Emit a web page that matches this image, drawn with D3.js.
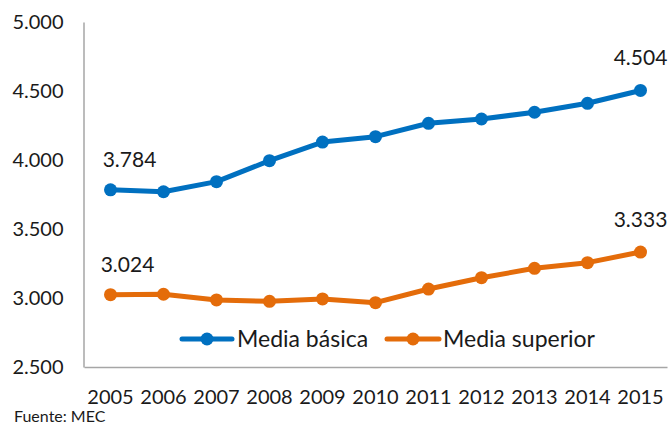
<html><head>
<meta charset="UTF-8">
<title>Media básica vs Media superior</title>
<script src="https://cdnjs.cloudflare.com/ajax/libs/d3/7.8.4/d3.min.js"></script>
<style>
    body {
        margin: 0;
        padding: 0;
        background: #ffffff;
        font-family: Lato, "Open Sans", sans-serif;
    }
    text { fill: #1a1a1a; }
</style>
</head>
<body>
<svg id="chart" width="671" height="430"></svg>
<script>
    // data
    var years = ["2005", "2006", "2007", "2008", "2009", "2010", "2011", "2012", "2013", "2014", "2015"];
    var mediaBasica = [3784, 3770, 3843, 3995, 4130, 4169, 4266, 4297, 4346, 4411, 4504];
    var mediaSuperior = [3024, 3027, 2986, 2976, 2993, 2966, 3065, 3147, 3215, 3256, 3333];
    var seriesNames = ["Media básica", "Media superior"];
    var yTicks = [2500, 3000, 3500, 4000, 4500, 5000];
    var source = "Fuente: MEC";

    var colors = ["#0070c0", "#e46c0a"];
    var axisColor = "#a6a6a6";

    var svg = d3.select("#chart");

    var fmt = d3.formatLocale({decimal: ",", thousands: ".", grouping: [3], currency: ["", ""]}).format(",d");

    var x = d3.scaleBand().domain(years).range([84, 667]).padding(0);
    var y = d3.scaleLinear().domain([2500, 5000]).range([367, 22]);
    var cx = function(d) { return x(d) + x.bandwidth() / 2; };

    // y axis
    var yAxis = svg.append("g")
        .attr("transform", "translate(83.5,0)")
        .call(d3.axisLeft(y).tickValues(yTicks).tickFormat(fmt).tickSize(0).tickPadding(20));
    yAxis.select(".domain").attr("stroke", axisColor).attr("stroke-width", 1.5);
    yAxis.selectAll("text").attr("font-family", "Lato").attr("font-size", 20).attr("fill", "#1a1a1a");

    // x axis
    var xAxis = svg.append("g")
        .attr("transform", "translate(0,367)")
        .call(d3.axisBottom(x).tickSize(0).tickPadding(23));
    xAxis.select(".domain").attr("stroke", axisColor).attr("stroke-width", 1.5);
    xAxis.selectAll("text").attr("font-family", "Lato").attr("font-size", 20).attr("fill", "#1a1a1a");

    var series = [mediaBasica, mediaSuperior];
    var line = d3.line()
        .x(function(d, i) { return cx(years[i]); })
        .y(function(d) { return y(d); });

    series.forEach(function(vals, s) {
        svg.append("path")
            .datum(vals)
            .attr("d", line)
            .attr("fill", "none")
            .attr("stroke", colors[s])
            .attr("stroke-width", 5)
            .attr("stroke-linejoin", "round");

        svg.selectAll("circle.s" + s)
            .data(vals)
            .enter().append("circle")
            .attr("class", "s" + s)
            .attr("cx", function(d, i) { return cx(years[i]); })
            .attr("cy", function(d) { return y(d); })
            .attr("r", 6.5)
            .attr("fill", colors[s]);
    });

    // data labels on first and last points
    var labelOffsets = [
        [{i: 0, dx: 19, dy: -23}, {i: 10, dx: 0, dy: -25}],
        [{i: 0, dx: 17, dy: -23}, {i: 10, dx: 0, dy: -25}]
    ];
    series.forEach(function(vals, s) {
        labelOffsets[s].forEach(function(o) {
            svg.append("text")
                .attr("x", cx(years[o.i]) + o.dx)
                .attr("y", y(vals[o.i]) + o.dy)
                .attr("text-anchor", "middle")
                .attr("font-size", 21)
                .text(fmt(vals[o.i]));
        });
    });

    // legend
    var legendItems = [
        {x0: 182, x1: 232, text: 237},
        {x0: 387, x1: 439, text: 443}
    ];
    var ly = 339;
    legendItems.forEach(function(l, s) {
        svg.append("line")
            .attr("x1", l.x0).attr("x2", l.x1)
            .attr("y1", ly).attr("y2", ly)
            .attr("stroke", colors[s]).attr("stroke-width", 5).attr("stroke-linecap", "round");
        svg.append("circle")
            .attr("cx", (l.x0 + l.x1) / 2).attr("cy", ly).attr("r", 6.5)
            .attr("fill", colors[s]);
        svg.append("text")
            .attr("x", l.text).attr("y", ly + 8)
            .attr("font-size", 23)
            .text(seriesNames[s]);
    });

    svg.append("text")
        .attr("x", 14).attr("y", 422)
        .attr("font-size", 16)
        .text(source);
</script>
</body>
</html>
